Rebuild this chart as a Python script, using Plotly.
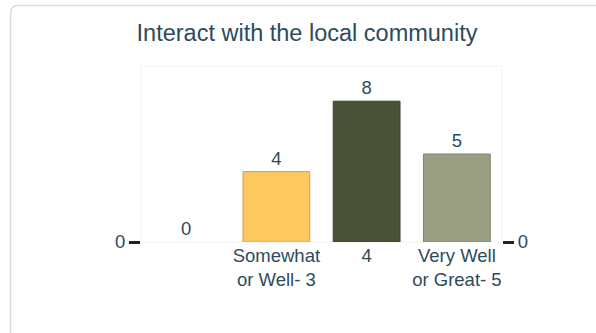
import plotly.graph_objects as go

# Survey responses for "Interact with the local community"
categories = ["", "Somewhat<br>or Well- 3", "4", "Very Well<br>or Great- 5"]
counts = [0, 4, 8, 5]
bar_colors = ["#FDC95E", "#FDC95E", "#4A5139", "#9A9E82"]
bar_edges = ["rgba(0,0,0,0)", "#C9A45C", "#3C4230", "#7E8270"]

W, H = 596, 333
ML, MR, MT, MB = 141, 94, 66, 91
PW, PH = W - ML - MR, H - MT - MB
TEXT = "#2D4B5C"
FONT = "Liberation Sans, Arial, sans-serif"


def px(x):
    return (x - ML) / PW


def py(y):
    return (H - MB - y) / PH


positions = list(range(len(categories)))

fig = go.Figure()
fig.add_trace(go.Bar(
    x=positions, y=counts,
    marker=dict(color=bar_colors,
                line=dict(color=bar_edges, width=[0 if v == 0 else 1 for v in counts])),
    width=0.74,
    text=[str(v) for v in counts], textposition="outside",
    textfont=dict(size=18.5, color=TEXT, family=FONT),
    cliponaxis=False, hoverinfo="skip",
))
# mirror series so the right-hand axis is drawn
fig.add_trace(go.Scatter(x=[positions[0]], y=[0], yaxis="y2", mode="markers",
                         marker=dict(opacity=0), hoverinfo="skip", showlegend=False))

# rounded card frame behind the chart
l, t, r, b, rad = 10.5, 5.5, 620, 360, 8
card = (f"M {px(l)},{py(b)} L {px(l)},{py(t + rad)} "
        f"Q {px(l)},{py(t)} {px(l + rad)},{py(t)} "
        f"L {px(r)},{py(t)} L {px(r)},{py(b)} Z")

fig.update_layout(
    width=W, height=H,
    margin=dict(l=ML, r=MR, t=MT, b=MB, pad=0),
    paper_bgcolor="white", plot_bgcolor="white",
    showlegend=False,
    font=dict(family=FONT, color=TEXT),
    title=dict(text="Interact with the local community", x=307 / W, xanchor="center",
               y=1 - 33 / H, yanchor="middle", xref="container", yref="container",
               font=dict(size=23.5, color=TEXT, family=FONT)),
    xaxis=dict(tickvals=positions, ticktext=categories, range=[-0.5, len(categories) - 0.5],
               showgrid=False, zeroline=False, showline=False, ticks="",
               tickfont=dict(size=18.5, color=TEXT)),
    yaxis=dict(range=[0, 10], tickvals=[0], ticktext=["0"], ticks="outside", ticklen=11,
               tickwidth=3, tickcolor="#222222", showgrid=False, zeroline=False,
               showline=False, tickfont=dict(size=18.5, color=TEXT)),
    yaxis2=dict(range=[0, 10], tickvals=[0], ticktext=["0"], ticks="outside", ticklen=11,
                tickwidth=3, tickcolor="#222222", showgrid=False, zeroline=False,
                showline=False, overlaying="y", side="right",
                tickfont=dict(size=18.5, color=TEXT)),
    shapes=[
        dict(type="path", path=card, xref="paper", yref="paper",
             line=dict(color="#DCDCDC", width=1.5), fillcolor="rgba(0,0,0,0)", layer="below"),
        dict(type="rect", xref="paper", yref="paper", x0=0, x1=1, y0=0, y1=1,
             line=dict(color="#F3F3F3", width=1), layer="below"),
    ],
)

fig.write_html("out.html")
